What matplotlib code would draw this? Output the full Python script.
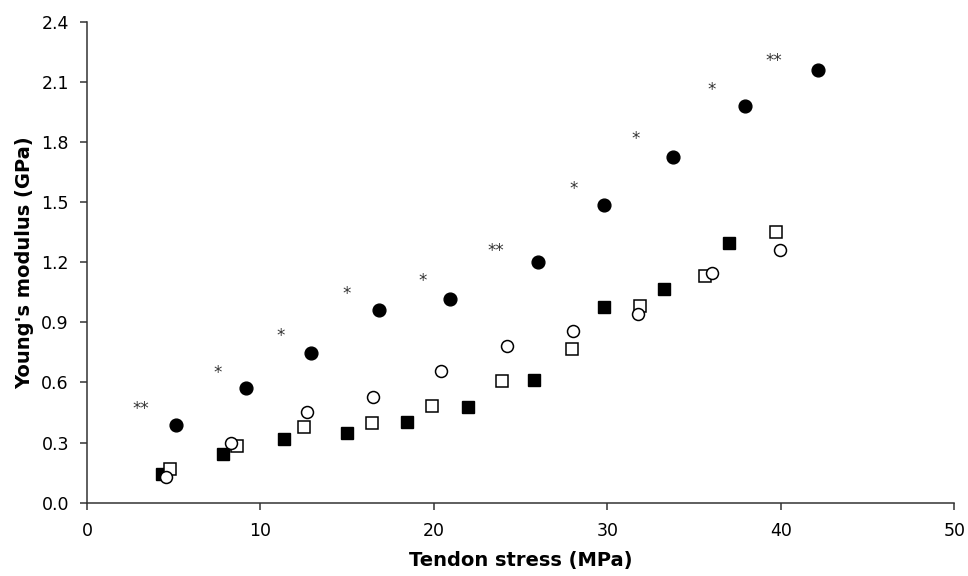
import numpy as np
import matplotlib.pyplot as plt

# filled circles
fc_x = [5.15, 9.15, 12.9, 16.83, 20.94, 26.0, 29.82, 33.76, 37.95, 42.15]
fc_y = [0.388, 0.574, 0.747, 0.96, 1.016, 1.20, 1.484, 1.725, 1.978, 2.158]

# open circles
oc_x = [4.57, 8.32, 12.66, 16.5, 20.4, 24.19, 28.03, 31.78, 36.06, 39.98]
oc_y = [0.128, 0.30, 0.454, 0.526, 0.659, 0.78, 0.858, 0.943, 1.145, 1.259]

# open squares
os_x = [4.77, 8.63, 12.53, 16.43, 19.9, 23.92, 27.97, 31.87, 35.64, 39.71]
os_y = [0.170, 0.283, 0.378, 0.396, 0.483, 0.609, 0.769, 0.982, 1.131, 1.349]

# filled squares
fs_x = [4.32, 7.82, 11.37, 15.0, 18.46, 21.96, 25.75, 29.8, 33.26, 37.02]
fs_y = [0.145, 0.245, 0.318, 0.346, 0.404, 0.478, 0.611, 0.977, 1.065, 1.296]

# significance marks
sig_x = [3.11, 7.51, 11.18, 14.95, 19.37, 23.57, 28.05, 31.64, 36.0, 39.58]
sig_y = [0.479, 0.659, 0.845, 1.053, 1.116, 1.267, 1.575, 1.826, 2.071, 2.214]
sig_txt = ['**', '*', '*', '*', '*', '**', '*', '*', '*', '**']

fig = plt.figure(figsize=(9.68, 5.76), dpi=100)
ax = fig.add_axes([0.0899, 0.1273, 0.8959, 0.835])

ax.plot(fs_x, fs_y, 's', color='black', markersize=8.3, linestyle='none')
ax.plot(os_x, os_y, 's', markerfacecolor='white', markeredgecolor='black',
        markeredgewidth=1.1, markersize=8.3, linestyle='none')
ax.plot(oc_x, oc_y, 'o', markerfacecolor='white', markeredgecolor='black',
        markeredgewidth=1.1, markersize=8.6, linestyle='none')
ax.plot(fc_x, fc_y, 'o', color='black', markersize=9.2, linestyle='none')

# asterisk glyph sits high in the line box, so nudge it down a bit
for xx, yy, t in zip(sig_x, sig_y, sig_txt):
    ax.text(xx, yy - 0.012, t, ha='center', va='center', fontsize=12, color='#333333')

ax.set_xlim(0, 50)
ax.set_ylim(0, 2.4)
ax.set_xticks(np.arange(0, 51, 10))
ax.set_yticks(np.arange(0, 2.41, 0.3))
ax.set_yticklabels(['%.1f' % v for v in np.arange(0, 2.41, 0.3)])

for s in ['top', 'right']:
    ax.spines[s].set_visible(False)
for s in ['left', 'bottom']:
    ax.spines[s].set_color('#333333')
    ax.spines[s].set_linewidth(1.1)

ax.tick_params(axis='both', direction='out', length=5, width=1.1,
               color='#333333', labelsize=12.5)
ax.tick_params(axis='x', pad=9)
ax.tick_params(axis='y', pad=8)

ax.set_xlabel('Tendon stress (MPa)', fontsize=14, fontweight='bold', labelpad=8)
ax.set_ylabel("Young's modulus (GPa)", fontsize=14, fontweight='bold', labelpad=5)

fig.savefig('out.png', dpi=100)
